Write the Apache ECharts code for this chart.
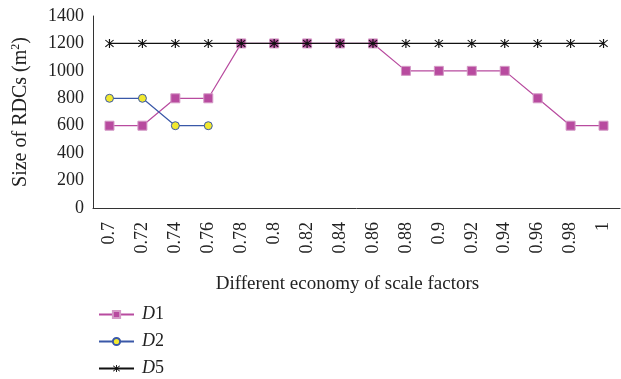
<!DOCTYPE html>
<html><head><meta charset="utf-8">
<script src="https://cdn.jsdelivr.net/npm/echarts@6/dist/echarts.min.js"></script>
<style>html,body{margin:0;padding:0;background:#fff}#c{width:621px;height:379px}</style>
</head><body><div id="c"></div>
<script>
const categories = ['0.7','0.72','0.74','0.76','0.78','0.8','0.82','0.84','0.86','0.88','0.9','0.92','0.94','0.96','0.98','1'];
const d1 = [600,600,800,800,1200,1200,1200,1200,1200,1000,1000,1000,1000,800,600,600];
const d2 = [800,800,600,600,null,null,null,null,null,null,null,null,null,null,null,null];
const d5 = [1200,1200,1200,1200,1200,1200,1200,1200,1200,1200,1200,1200,1200,1200,1200,1200];
const yTicks = {min:0, max:1400, interval:200};

const serif = '"Liberation Serif","DejaVu Serif",serif';
const asterisk = 'path://M-0.6,-5 L0.6,-5 L0.6,5 L-0.6,5 Z M-4.6,-3.4 L-3.8,-4.2 L4.6,3.4 L3.8,4.2 Z M3.8,-4.2 L4.6,-3.4 L-3.8,4.2 L-4.6,3.4 Z';

const chart = echarts.init(document.getElementById('c'));
chart.setOption({
  animation:false,
  grid:{left:93, top:16, right:1, bottom:171, containLabel:false},
  xAxis:{
    type:'category', data:categories, boundaryGap:true,
    axisLine:{lineStyle:{color:'#333', width:1}},
    axisTick:{inside:true, length:3, lineStyle:{color:'#333'}},
    axisLabel:{rotate:90, margin:14, color:'#222', fontFamily:serif, fontSize:18},
    name:'Different economy of scale factors', nameLocation:'middle', nameGap:67,
    nameTextStyle:{color:'#222', fontFamily:serif, fontSize:19, padding:[0,18,0,0]}
  },
  yAxis:{
    type:'value', min:yTicks.min, max:yTicks.max, interval:yTicks.interval,
    splitLine:{show:false},
    axisLine:{show:true, lineStyle:{color:'#333', width:1}},
    axisTick:{show:false},
    axisLabel:{margin:9, color:'#222', fontFamily:serif, fontSize:18, formatter:function(v){return String(v);}},
    name:'Size of RDCs (m{sup|2})', nameLocation:'middle', nameGap:61,
    nameTextStyle:{color:'#222', fontFamily:serif, fontSize:20,
      rich:{sup:{fontSize:12, fontFamily:serif, color:'#222', padding:[0,0,10,0]}}}
  },
  legend:{
    orient:'vertical', left:93, top:299, height:100, itemWidth:35, itemHeight:9, itemGap:6,
    textStyle:{fontFamily:serif, fontSize:18, color:'#222', lineHeight:21, padding:[0,0,0,3],
      rich:{i:{fontStyle:'italic', fontFamily:serif, fontSize:18, color:'#222', lineHeight:21}, n:{fontFamily:serif, fontSize:18, color:'#222', lineHeight:21}}},
    formatter:function(n){return '{i|D}{n|'+n.slice(1)+'}';},
    data:['D1','D2','D5']
  },
  series:[
    {name:'D1', type:'line', data:d1, symbol:'rect', symbolSize:9,
      lineStyle:{color:'#b84b9f', width:1.2}, itemStyle:{color:'#b84b9f', borderColor:'#d49ac6', borderWidth:1}, z:3},
    {name:'D2', type:'line', data:d2, symbol:'circle', symbolSize:8, connectNulls:false,
      lineStyle:{color:'#3a58a8', width:1.2}, itemStyle:{color:'#f2e92e', borderColor:'#3a58a8', borderWidth:1}, z:4},
    {name:'D5', type:'line', data:d5, symbol:asterisk, symbolSize:9,
      lineStyle:{color:'#111', width:1.3}, itemStyle:{color:'#111'}, z:5}
  ]
});
</script></body></html>
